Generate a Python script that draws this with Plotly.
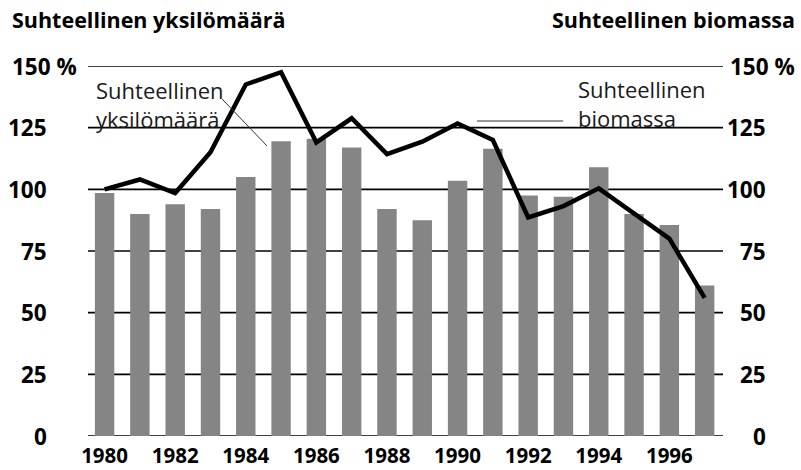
import plotly.graph_objects as go

years = list(range(1980, 1998))
individuals = [98.5, 90, 94, 92, 105, 119.5, 120.5, 117, 92, 87.5, 103.5, 116.5, 97.5, 97, 109, 90, 85.5, 61]
biomass = [100, 104, 98.5, 115, 142.5, 147.5, 119, 128.8, 114.3, 119.3, 126.7, 120, 88.6, 93.2, 100.4, 90, 80, 56]
y_ticks = [0, 25, 50, 75, 100, 125, 150]
y_ticktext = ["0", "25", "50", "75", "100", "125", "150 %"]
x_ticks = list(range(1980, 1997, 2))

left_title = "Suhteellinen yksilömäärä"
right_title = "Suhteellinen biomassa"

FONT = "Open Sans"
BOLD_Y = dict(family=FONT, size=22.5, color="black", weight="bold")

fig = go.Figure()
fig.add_trace(go.Bar(x=years, y=individuals, marker=dict(color="#858585", line=dict(width=0)),
                     name="Suhteellinen yksilömäärä", showlegend=False))
fig.add_trace(go.Scatter(x=years, y=biomass, mode="lines", line=dict(color="black", width=4.5),
                         name="Suhteellinen biomassa", showlegend=False))

annotations = []
shapes = []
for v, t in zip(y_ticks, y_ticktext):
    shapes.append(dict(type="line", xref="paper", yref="y", x0=0, x1=1, y0=v, y1=v,
                       line=dict(color="black", width=1.6), layer="below"))
    if t.endswith("%"):
        annotations.append(dict(x=-0.1228, xref="paper", y=v, yref="y", text=t, showarrow=False,
                                xanchor="left", yanchor="middle", font=BOLD_Y))
        annotations.append(dict(x=1.1165, xref="paper", y=v, yref="y", text=t, showarrow=False,
                                xanchor="right", yanchor="middle", font=BOLD_Y))
    else:
        annotations.append(dict(x=-0.0614, xref="paper", y=v, yref="y", text=t, showarrow=False,
                                xanchor="right", yanchor="middle", font=BOLD_Y))
        annotations.append(dict(x=1.0709, xref="paper", y=v, yref="y", text=t, showarrow=False,
                                xanchor="right", yanchor="middle", font=BOLD_Y))

annotations.append(dict(x=-0.1228, xref="paper", y=1.0, yref="paper", yshift=47, text=left_title, showarrow=False,
                        xanchor="left", yanchor="middle", font=dict(family=FONT, size=21.5, color="black", weight="bold")))
annotations.append(dict(x=1.1165, xref="paper", y=1.0, yref="paper", yshift=47, text=right_title, showarrow=False,
                        xanchor="right", yanchor="middle", font=dict(family=FONT, size=21.5, color="black", weight="bold")))

annotations.append(dict(x=1979.70, xref="x", y=134.2, yref="y", text="Suhteellinen<br>yksilömäärä", showarrow=False,
                        xanchor="left", yanchor="middle", align="left",
                        font=dict(family=FONT, size=22, color="#1a1a1a")))
annotations.append(dict(x=1993.35, xref="x", y=134.6, yref="y", text="Suhteellinen<br>biomassa", showarrow=False,
                        xanchor="left", yanchor="middle", align="left",
                        font=dict(family=FONT, size=22, color="#1a1a1a")))

shapes += [
    dict(type="line", xref="x", yref="y", x0=1983.33, y0=136.6, x1=1984.6, y1=117.6, line=dict(color="#333", width=1)),
    dict(type="line", xref="x", yref="y", x0=1990.55, y0=127.7, x1=1992.99, y1=127.7, line=dict(color="#333", width=1.2)),
]

fig.update_layout(
    width=801, height=470,
    margin=dict(l=88, r=78, t=66, b=34),
    paper_bgcolor="white", plot_bgcolor="white",
    bargap=0.45,
    annotations=annotations,
    shapes=shapes,
    xaxis=dict(range=[1979.53, 1997.52], tickvals=x_ticks, ticktext=[str(x) for x in x_ticks],
               showgrid=False, zeroline=False, showline=False, ticks="", ticklabelstandoff=5,
               automargin=False,
               tickfont=dict(family=FONT, size=20.5, color="black", weight="bold")),
    yaxis=dict(range=[0, 150], tickvals=y_ticks, showticklabels=False, showgrid=False,
               zeroline=False, showline=False, ticks="", automargin=False),
)

# remove the browser's default 8px page margin so the 801x470 figure fills the window exactly
fig.write_html("out.html", config={"displayModeBar": False},
               post_script="document.body.style.margin='0';")
